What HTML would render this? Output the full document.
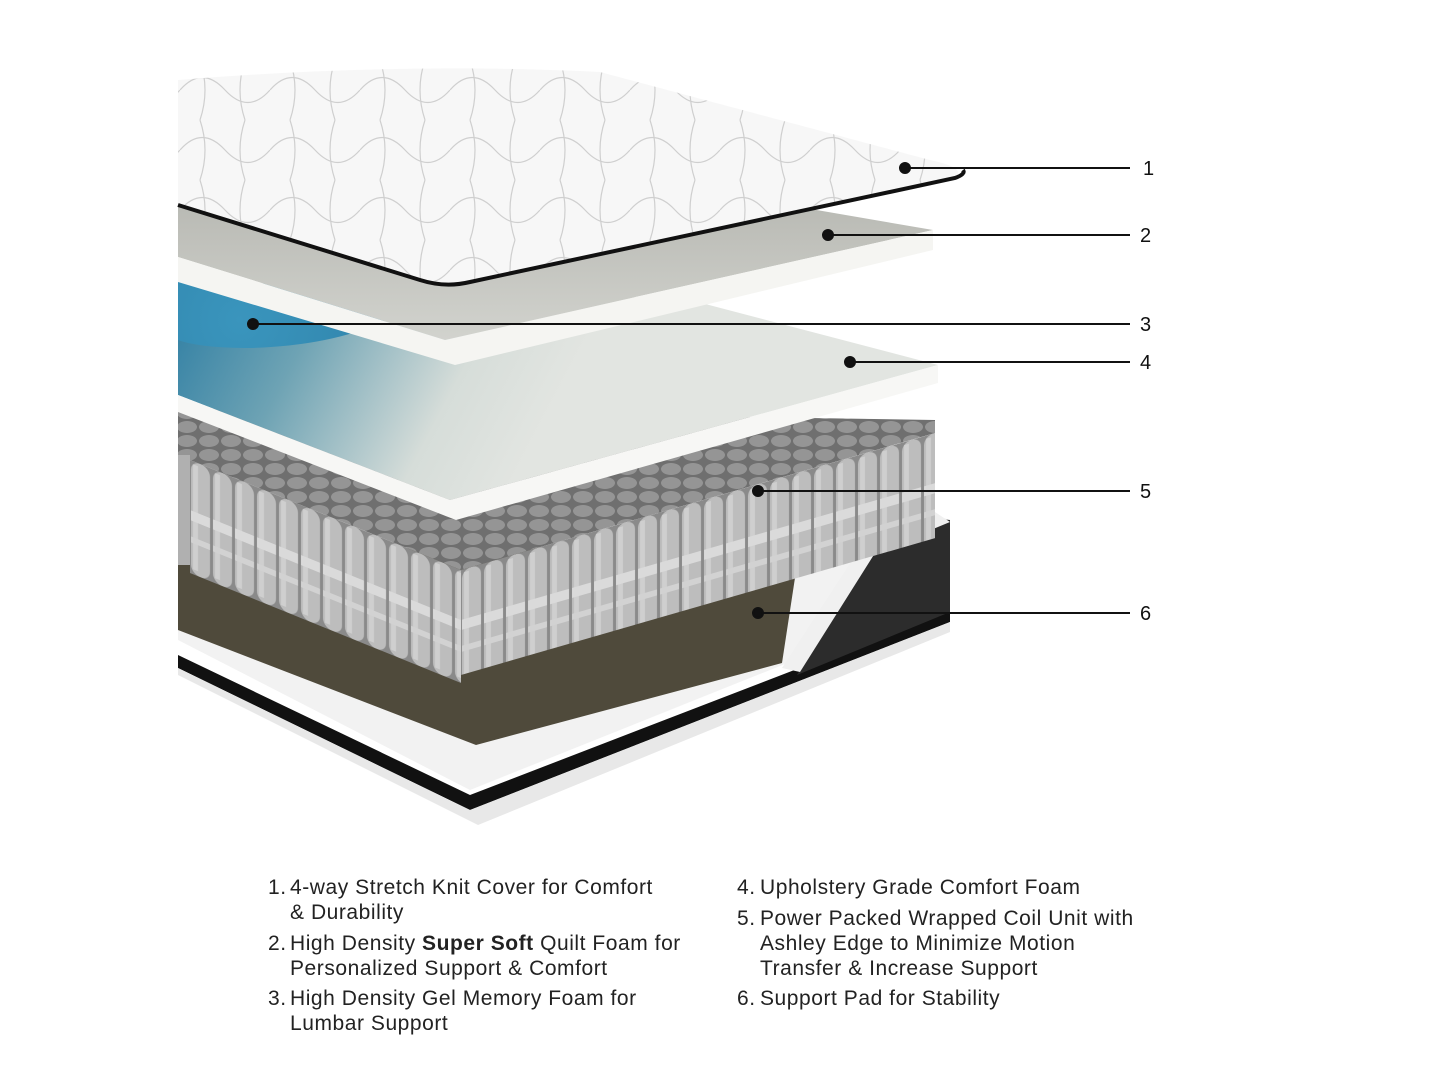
<!DOCTYPE html>
<html><head><meta charset="utf-8"><style>
html,body{margin:0;padding:0;background:#fff;}
body{width:1445px;height:1084px;position:relative;overflow:hidden;font-family:"Liberation Sans",sans-serif;}
.t{position:absolute;font-size:21px;color:#222;line-height:25px;letter-spacing:0.55px;}
</style></head><body>
<svg width="1445" height="1084" style="position:absolute;left:0;top:0">
<defs>
<linearGradient id="l4" x1="178" y1="290" x2="520" y2="470" gradientUnits="userSpaceOnUse"><stop offset="0" stop-color="#2e7ea3"/><stop offset="0.35" stop-color="#6ea3b4"/><stop offset="0.75" stop-color="#d6ddd9"/><stop offset="1" stop-color="#e2e5e1"/></linearGradient>
<linearGradient id="l2" x1="0" x2="0" y1="205" y2="340" gradientUnits="userSpaceOnUse"><stop offset="0" stop-color="#b9bab4"/><stop offset="1" stop-color="#d2d3ce"/></linearGradient>
<radialGradient id="bl" cx="240" cy="320" r="200" gradientUnits="userSpaceOnUse"><stop offset="0" stop-color="#3a95bd"/><stop offset="1" stop-color="#2d7fa6"/></radialGradient>
<pattern id="cf" width="22" height="115" patternUnits="userSpaceOnUse"><rect width="22" height="115" fill="#8a8a8a"/><rect x="1" y="0" width="19" height="113" rx="9" fill="#bdbdbd"/><rect x="3" y="3" width="5" height="105" fill="#cfcfcf"/><rect x="1" y="50" width="19" height="10" fill="#dadada"/><rect x="1" y="76" width="19" height="6" fill="#d2d2d2"/></pattern>
<pattern id="ct" width="22" height="14" patternUnits="userSpaceOnUse"><rect width="22" height="14" fill="#6f6f6f"/><ellipse cx="11" cy="7" rx="10" ry="6" fill="#959595"/></pattern>
<pattern id="qt" width="90" height="60" patternUnits="userSpaceOnUse"><rect width="90" height="60" fill="#f7f7f7"/><path d="M0,30 q22,-25 45,0 t45,0 M20,0 q10,30 0,60 M65,0 q-10,30 0,60" stroke="#cfcfcf" stroke-width="1.2" fill="none"/></pattern>
</defs>
<polygon points="178,640 470,790 945,600 950,520 925,512 178,560" fill="#f2f2f2"/>
<polygon points="178,655 470,795 950,610 950,622 470,810 178,668" fill="#111"/>
<polygon points="178,668 470,810 950,622 950,632 478,825 178,675" fill="#e8e8e8"/>
<polygon points="178,550 800,545 782,663 476,745 178,630" fill="#4f4a3b"/>
<polygon points="870,550 930,518 950,520 950,612 797,675" fill="#2c2c2c"/>
<polygon points="860,548 935,512 950,522 875,553 800,672 782,668" fill="#f0f0f0"/>
<polygon points="178,408 935,420 935,433 461,570 190,460 178,460" fill="url(#ct)"/>
<g transform="translate(190,460) skewY(22.1)"><rect x="0" y="0" width="271" height="113" fill="url(#cf)"/></g>
<g transform="translate(461,570) skewY(-16.1)"><rect x="0" y="0" width="474" height="105" fill="url(#cf)"/></g>
<rect x="178" y="455" width="12" height="110" fill="#b0b0b0"/>
<polygon points="178,280 690,300 938,365 450,500 178,395" fill="url(#l4)"/>
<polygon points="178,395 450,500 938,365 938,383 456,520 178,412" fill="#f7f7f5"/>
<path d="M178,278 L420,300 Q360,345 250,348 Q200,348 178,340 Z" fill="url(#bl)"/>
<polygon points="178,200 700,190 933,230 445,340 178,257" fill="url(#l2)"/>
<polygon points="178,257 445,340 933,230 933,250 455,365 178,282" fill="#f5f5f2"/>
<path d="M178,80 Q400,62 600,72 L930,160 Q968,168 955,178 L470,282 Q445,288 420,280 L178,205 Z" fill="url(#qt)"/>
<path d="M178,205 L420,280 Q445,288 470,282 L955,178 Q966,174 963,170" fill="none" stroke="#111" stroke-width="4"/>
<g stroke="#111" stroke-width="2" fill="#111">
<line x1="905" y1="168" x2="1130" y2="168"/><circle cx="905" cy="168" r="5"/>
<line x1="828" y1="235" x2="1130" y2="235"/><circle cx="828" cy="235" r="5"/>
<line x1="253" y1="324" x2="1130" y2="324"/><circle cx="253" cy="324" r="5"/>
<line x1="850" y1="362" x2="1130" y2="362"/><circle cx="850" cy="362" r="5"/>
<line x1="758" y1="491" x2="1130" y2="491"/><circle cx="758" cy="491" r="5"/>
<line x1="758" y1="613" x2="1130" y2="613"/><circle cx="758" cy="613" r="5"/>
</g>
<g font-family="Liberation Sans" font-size="20" fill="#111">
<text x="1143" y="175">1</text><text x="1140" y="242">2</text><text x="1140" y="331">3</text><text x="1140" y="369">4</text><text x="1140" y="498">5</text><text x="1140" y="620">6</text>
</g>
</svg>
<div class="t" style="left:268px;top:875px">1.</div>
<div class="t" style="left:290px;top:875px">4-way Stretch Knit Cover for Comfort<br>&amp; Durability</div>
<div class="t" style="left:268px;top:931px">2.</div>
<div class="t" style="left:290px;top:931px">High Density <b>Super Soft</b> Quilt Foam for<br>Personalized Support &amp; Comfort</div>
<div class="t" style="left:268px;top:986px">3.</div>
<div class="t" style="left:290px;top:986px">High Density Gel Memory Foam for<br>Lumbar Support</div>
<div class="t" style="left:737px;top:875px">4.</div>
<div class="t" style="left:760px;top:875px">Upholstery Grade Comfort Foam</div>
<div class="t" style="left:737px;top:906px">5.</div>
<div class="t" style="left:760px;top:906px">Power Packed Wrapped Coil Unit with<br>Ashley Edge to Minimize Motion<br>Transfer &amp; Increase Support</div>
<div class="t" style="left:737px;top:986px">6.</div>
<div class="t" style="left:760px;top:986px">Support Pad for Stability</div>
</body></html>
